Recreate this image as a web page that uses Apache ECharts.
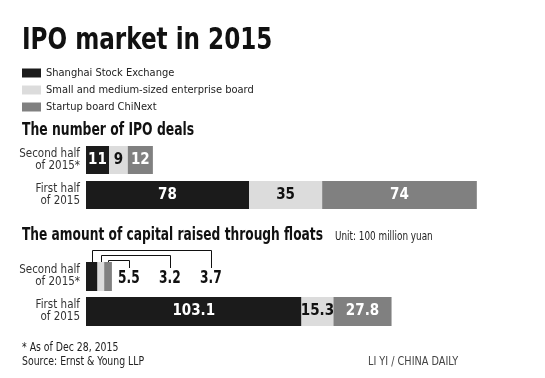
<!DOCTYPE html>
<html>
<head>
<meta charset="utf-8">
<script src="https://cdn.jsdelivr.net/npm/echarts@6/dist/echarts.min.js"></script>
<style>
html,body{margin:0;padding:0;background:#fff;}
#chart{width:545px;height:378px;}
</style>
</head>
<body>
<div id="chart"></div>
<script>
// ---- data ----
var categories = ['Second half\nof 2015*', 'First half\nof 2015'];
var seriesNames = ['Shanghai Stock Exchange', 'Small and medium-sized enterprise board', 'Startup board ChiNext'];
// number of IPO deals: [second half, first half]
var dealsShanghai = [11, 78];
var dealsSME = [9, 35];
var dealsChiNext = [12, 74];
// capital raised (100 million yuan): [second half, first half]
var capitalShanghai = [5.5, 103.1];
var capitalSME = [3.2, 15.3];
var capitalChiNext = [3.7, 27.8];

var FONT = "'DejaVu Sans Condensed', 'Liberation Sans Narrow', 'Liberation Sans', sans-serif";
var colors = ['#1b1b1b', '#dcdcdc', '#808080'];
var labelColors = ['#ffffff', '#111111', '#ffffff'];

var chart = echarts.init(document.getElementById('chart'));

function barSeries(name, data, idx, axisIdx, barW, hideFirst) {
  return {
    type: 'bar', name: name, stack: 'g' + axisIdx,
    xAxisIndex: axisIdx, yAxisIndex: axisIdx,
    barWidth: barW,
    data: data,
    itemStyle: { color: colors[idx] },
    label: {
      show: true, position: 'inside',
      color: labelColors[idx], fontFamily: FONT, fontWeight: 'bold', fontSize: 15,
      formatter: function (p) { return (hideFirst && p.dataIndex === 0) ? '' : String(p.value); }
    },
    emphasis: { disabled: true },
    silent: true
  };
}

var capH2 = [capitalShanghai[0], capitalSME[0], capitalChiNext[0]];
var calloutData = [];
var acc = 0;
for (var i = 0; i < capH2.length; i++) {
  calloutData.push([acc, 0, acc + capH2[i], i, capH2[i]]);
  acc += capH2[i];
}
var totalH2 = acc;

function gtext(text, x, y, size, weight, color, sx, extra) {
  var el = {
    type: 'text', x: x, y: y, scaleX: sx, silent: true,
    style: { text: text, font: weight + ' ' + size + 'px ' + FONT, fill: color,
             align: 'left', verticalAlign: 'middle' }
  };
  if (extra) { for (var k in extra) el.style[k] = extra[k]; }
  return el;
}

var yAxisCommon = {
  type: 'category', data: categories, inverse: true,
  axisLine: { show: false }, axisTick: { show: false },
  axisLabel: { fontFamily: FONT, fontSize: 11.5, lineHeight: 12, color: '#333', margin: 6, align: 'right' }
};
var xAxisCommon = { type: 'value', min: 0, max: 200, show: false };

var option = {
  backgroundColor: '#ffffff',
  animation: false,
  graphic: [
    gtext('IPO market in 2015', 22, 41, 30, 'bold', '#111', 0.856),
    gtext('The number of IPO deals', 22, 131, 17, 'bold', '#111', 0.81),
    gtext('The amount of capital raised through floats', 22, 236, 17, 'bold', '#111', 0.80),
    gtext('Unit: 100 million yuan', 335, 236.5, 12, 'normal', '#222', 0.82),
    gtext('* As of Dec 28, 2015', 22, 348, 12.5, 'normal', '#222', 0.83),
    gtext('Source: Ernst & Young LLP', 22, 362, 12.5, 'normal', '#222', 0.83),
    gtext('LI YI / CHINA DAILY', 368, 362, 13, 'normal', '#444', 0.83)
  ],
  legend: {
    data: seriesNames, orient: 'vertical', left: 22, top: 66.5, padding: 0,
    itemWidth: 19, itemHeight: 9, itemGap: 4, icon: 'rect', selectedMode: false,
    textStyle: { fontFamily: FONT, fontSize: 11, lineHeight: 13, color: '#222' }
  },
  grid: [
    { left: 86, width: 418, top: 142.5, height: 70 },
    { left: 86, width: 418, top: 259, height: 70 }
  ],
  xAxis: [
    Object.assign({ gridIndex: 0 }, xAxisCommon),
    Object.assign({ gridIndex: 1 }, xAxisCommon)
  ],
  yAxis: [
    Object.assign({ gridIndex: 0 }, yAxisCommon),
    Object.assign({ gridIndex: 1 }, yAxisCommon)
  ],
  series: [
    barSeries(seriesNames[0], dealsShanghai, 0, 0, 28, false),
    barSeries(seriesNames[1], dealsSME, 1, 0, 28, false),
    barSeries(seriesNames[2], dealsChiNext, 2, 0, 28, false),
    barSeries(seriesNames[0], capitalShanghai, 0, 1, 29, true),
    barSeries(seriesNames[1], capitalSME, 1, 1, 29, true),
    barSeries(seriesNames[2], capitalChiNext, 2, 1, 29, true),
    {
      type: 'custom', xAxisIndex: 1, yAxisIndex: 1, silent: true, z: 5,
      encode: { x: [0, 2], y: 1 },
      data: calloutData,
      renderItem: function (params, api) {
        var idx = api.value(3);
        var n = capH2.length;
        var s = api.coord([api.value(0), 0]);
        var e = api.coord([api.value(2), 0]);
        var end = api.coord([totalH2, 0]);
        var barTop = s[1] - 14.5;
        var segX = Math.round((s[0] + e[0]) / 2) + 0.5;
        var slot = n - 1 - idx;
        var slotX = Math.round(end[0] + 17 + slot * 41) + 0.5;
        var riseY = Math.round(barTop - 2.5 - (n - 1 - idx) * 4.8) + 0.5;
        var labelX = end[0] + 17 + idx * 41;
        return {
          type: 'group',
          children: [
            { type: 'polyline',
              shape: { points: [[segX, barTop], [segX, riseY], [slotX, riseY], [slotX, barTop + 6]] },
              style: { stroke: '#111', lineWidth: 1, fill: null } },
            { type: 'text', x: labelX, y: s[1] + 2.5, scaleX: 0.8,
              style: { text: String(api.value(4)), x: 0, y: 0,
                       align: 'center', verticalAlign: 'middle',
                       font: 'bold 17px ' + FONT, fill: '#111' } }
          ]
        };
      }
    }
  ]
};
chart.setOption(option);
</script>
</body>
</html>
